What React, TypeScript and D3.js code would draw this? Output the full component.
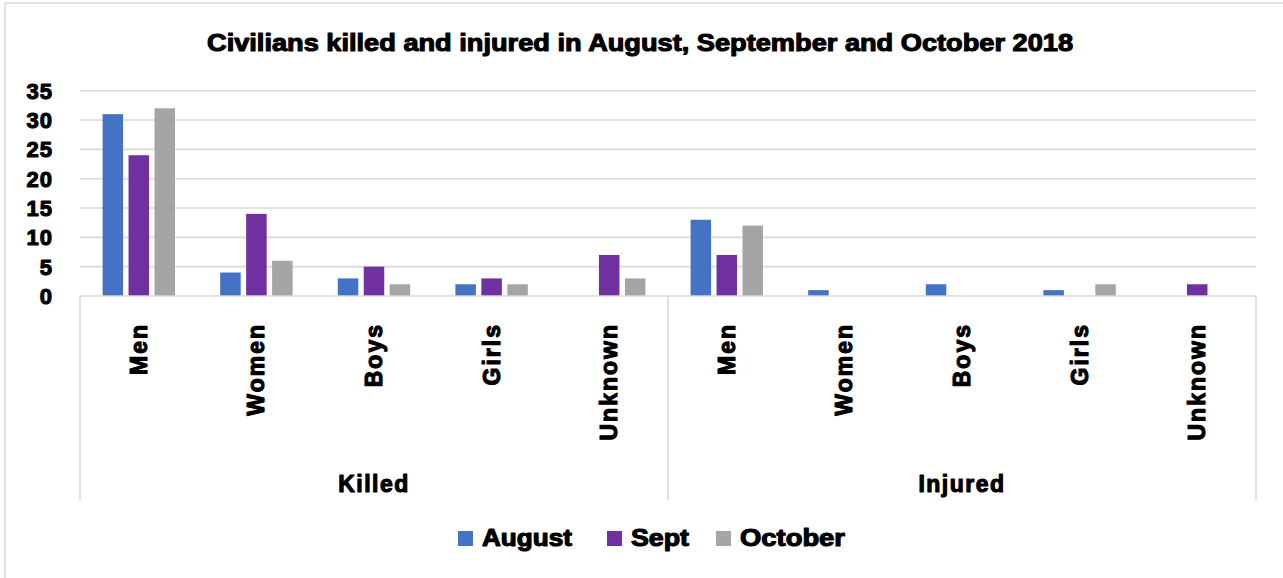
import React from "react";
import * as d3 from "d3";

// data
const groups = ["Killed", "Injured"];
const subcategories = ["Men", "Women", "Boys", "Girls", "Unknown"];
const months = ["August", "Sept", "October"];
const augustValues = [31, 4, 3, 2, 0, 13, 1, 2, 1, 0];
const septValues = [24, 14, 5, 3, 7, 7, 0, 0, 0, 2];
const octoberValues = [32, 6, 2, 2, 3, 12, 0, 0, 2, 0];
const colors = ["#4472C4", "#7030A0", "#A5A5A5"];
const title = "Civilians killed and injured in August, September and October 2018";

const W = 1283;
const H = 578;
const margin = { left: 80, right: 27, top: 90.7, bottom: 282 };
const gridColor = "#d9d9d9";

const textStyle: React.CSSProperties = {
  fontFamily: "'Liberation Sans', Arial, sans-serif",
  fontWeight: 700,
  stroke: "#000",
  strokeWidth: 1.1,
  strokeLinejoin: "round",
};

export default function App() {
  const keys = groups.flatMap((g) => subcategories.map((s) => `${g}|${s}`));
  const series = [augustValues, septValues, octoberValues];

  const x = d3
    .scaleBand()
    .domain(keys)
    .range([margin.left, W - margin.right])
    .padding(0);

  const xInner = d3
    .scaleBand()
    .domain(months)
    .range([0, x.bandwidth()])
    .paddingInner(0.21)
    .paddingOuter(0.87);

  const y = d3
    .scaleLinear()
    .domain([0, 35])
    .range([H - margin.bottom, margin.top]);

  const groupX = d3
    .scaleBand()
    .domain(groups)
    .range([margin.left, W - margin.right]);

  const y0 = y(0);
  const axisBottom = 500;
  const legendX = [458, 607, 716];
  const legendWidths = [90, 58, 105];

  return (
    <svg
      width={W}
      height={H}
      style={{ position: "absolute", left: 0, top: 0, background: "#fff" }}
    >
      <rect x={5} y={3} width={W + 20} height={H + 20} fill="#fff" stroke={gridColor} strokeWidth={1.5} />

      <text
        x={640}
        y={51}
        textAnchor="middle"
        fontSize={24}
        textLength={866}
        lengthAdjust="spacingAndGlyphs"
        style={textStyle}
      >
        {title}
      </text>

      {/* gridlines */}
      {y.ticks(7).filter((t) => t > 0).map((t) => (
        <line
          key={t}
          x1={margin.left}
          x2={W - margin.right}
          y1={y(t)}
          y2={y(t)}
          stroke={gridColor}
          strokeWidth={1.6}
        />
      ))}

      {/* y tick labels */}
      {y.ticks(7).map((t) => (
        <text
          key={t}
          x={53}
          y={y(t) + 8}
          textAnchor="end"
          fontSize={22}
          letterSpacing={1}
          style={textStyle}
        >
          {t}
        </text>
      ))}

      {/* bars */}
      {keys.map((k, i) => (
        <g key={k} transform={`translate(${x(k)},0)`}>
          {months.map((m, j) => {
            const v = series[j][i];
            if (!v) return null;
            return (
              <rect
                key={m}
                x={xInner(m)}
                y={y(v)}
                width={xInner.bandwidth()}
                height={y0 - y(v)}
                fill={colors[j]}
              />
            );
          })}
        </g>
      ))}

      {/* category axis box */}
      <line x1={margin.left} x2={W - margin.right} y1={y0} y2={y0} stroke={gridColor} strokeWidth={1.6} />
      {[...groups.map((g) => groupX(g) as number), W - margin.right].map((gx, i) => (
        <line key={i} x1={gx} x2={gx} y1={y0} y2={axisBottom} stroke={gridColor} strokeWidth={1.6} />
      ))}

      {/* subcategory labels */}
      {keys.map((k) => {
        const cx = (x(k) as number) + x.bandwidth() / 2;
        const label = k.split("|")[1];
        return (
          <text
            key={k}
            transform={`translate(${cx + 8},323) rotate(-90)`}
            textAnchor="end"
            fontSize={23}
            letterSpacing={2}
            style={textStyle}
          >
            {label}
          </text>
        );
      })}

      {/* group labels */}
      {groups.map((g) => (
        <text
          key={g}
          x={(groupX(g) as number) + groupX.bandwidth() / 2}
          y={492}
          textAnchor="middle"
          fontSize={23}
          letterSpacing={1.5}
          style={textStyle}
        >
          {g}
        </text>
      ))}

      {/* legend */}
      {months.map((m, i) => (
        <g key={m} transform={`translate(${legendX[i]},531)`}>
          <rect x={0} y={0} width={15} height={15} fill={colors[i]} />
          <text
            x={24}
            y={15}
            fontSize={23}
            textLength={legendWidths[i]}
            lengthAdjust="spacingAndGlyphs"
            style={textStyle}
          >
            {m}
          </text>
        </g>
      ))}
    </svg>
  );
}
